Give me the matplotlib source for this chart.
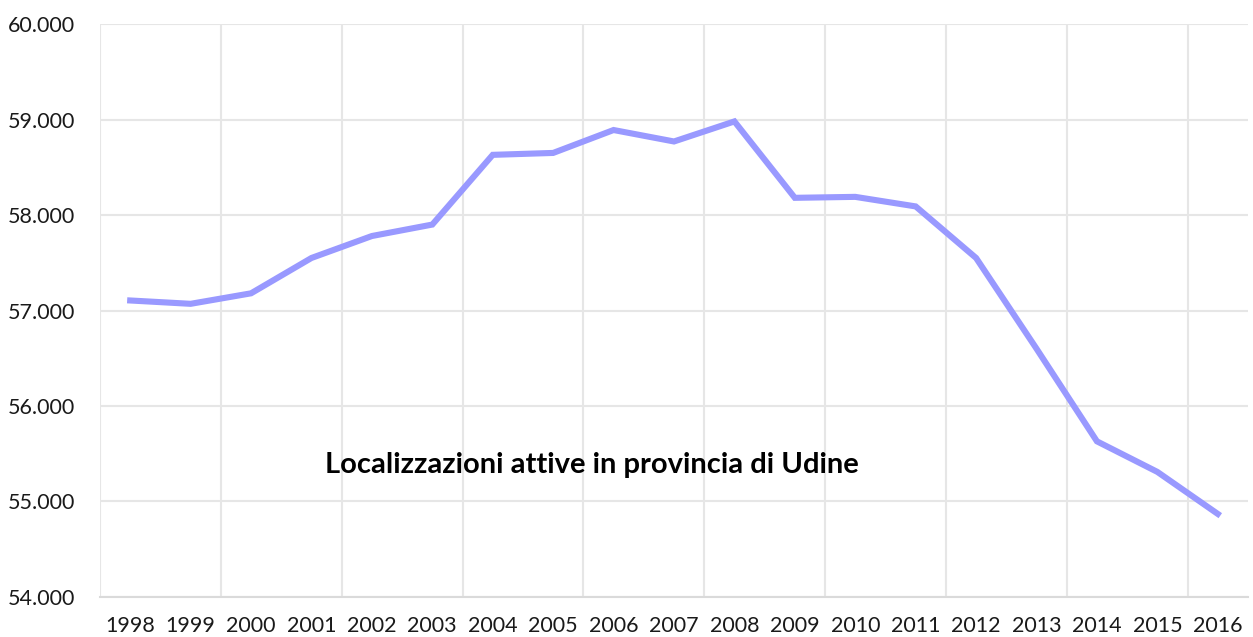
import matplotlib; matplotlib.use("Agg")
import matplotlib.pyplot as plt
from matplotlib.ticker import FuncFormatter, FixedLocator

plt.rcParams["font.family"] = ["Lato", "DejaVu Sans"]

anni = [str(a) for a in range(1998, 2017)]
localizzazioni = [57105, 57070, 57180, 57550, 57780, 57900, 58630, 58650, 58890,
                  58770, 58980, 58180, 58190, 58090, 57550, 56600, 55630, 55310, 54870]
titolo = "Localizzazioni attive in provincia di Udine"

fig = plt.figure(figsize=(12.53, 6.37), dpi=100)
ax = fig.add_axes([0.0798, 0.0628, 0.9162, 0.8995])
x = list(range(len(anni)))
ax.plot(x, localizzazioni, color="#9999FF", lw=4.4, solid_joinstyle="miter", zorder=3)

ax.set_xlim(-0.5, len(anni) - 0.5)
ax.set_ylim(54000, 60000)
ax.set_yticks(range(54000, 60001, 1000))
ax.yaxis.set_major_formatter(FuncFormatter(lambda v, p: f"{v:,.0f}".replace(",", ".")))
ax.set_xticks(x)
ax.set_xticklabels(anni)
ax.xaxis.set_minor_locator(FixedLocator([i - 0.5 for i in range(0, len(anni), 2)]))
ax.grid(axis="y", which="major", color="#E6E6E6", lw=1.5)
ax.grid(axis="x", which="minor", color="#E6E6E6", lw=1.5)
ax.set_axisbelow(True)
for s in ["top", "right", "left"]:
    ax.spines[s].set_visible(False)
ax.spines["bottom"].set_color("#DADADA")
ax.spines["bottom"].set_linewidth(1.5)
ax.tick_params(which="both", length=0)
ax.tick_params(axis="x", labelsize=15.5, pad=14)
ax.tick_params(axis="y", labelsize=15.5, pad=18)
for t in ax.get_yticklabels() + ax.get_xticklabels():
    t.set_color("#1a1a1a")

fig.text(0.4725, 0.27, titolo, ha="center", va="center", fontsize=21, fontweight="bold")

fig.savefig("out.png", dpi=100)
